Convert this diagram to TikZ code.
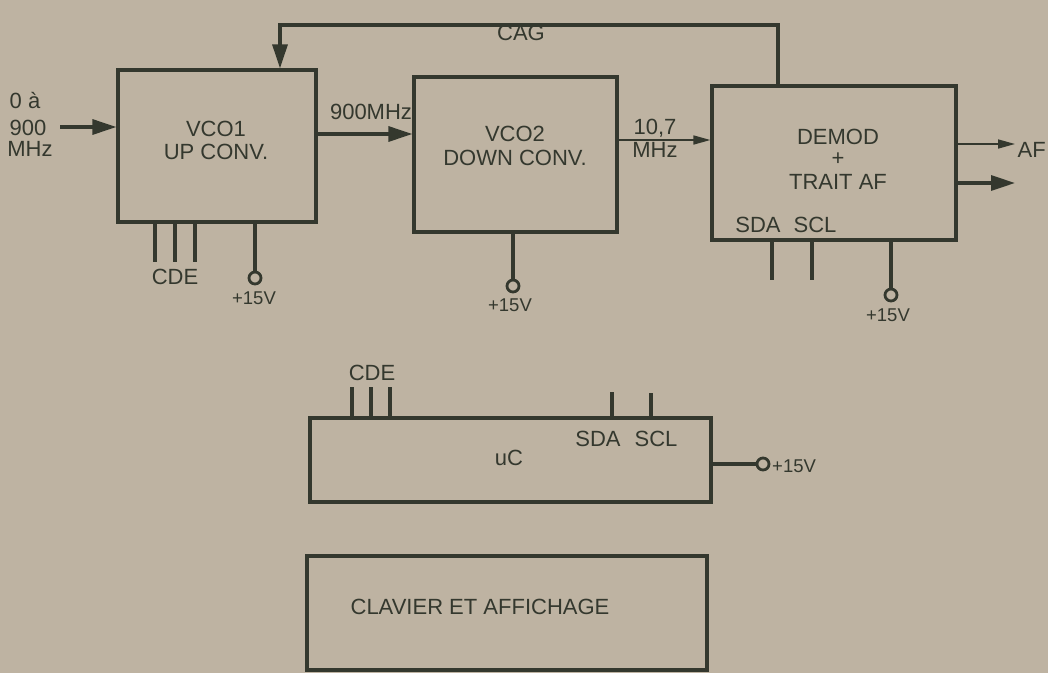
\documentclass[tikz,border=0pt]{standalone}
\usepackage{fontspec}
\setmainfont{Liberation Sans}
\usetikzlibrary{arrows.meta}
\definecolor{paper}{RGB}{190,179,162}
\definecolor{ink}{RGB}{52,56,46}
\begin{document}
\begin{tikzpicture}[x=1pt,y=-1pt,
  every node/.style={text=ink, font=\fontsize{22}{23}\selectfont, inner sep=0pt},
  box/.style={draw=ink, line width=3.2pt, rectangle},
  wire/.style={draw=ink, line width=3.2pt},
  thinwire/.style={draw=ink, line width=1.6pt},
  arr/.style={-{Triangle[length=24pt,width=15pt]}},
  sarr/.style={-{Triangle[length=17pt,width=9pt]}},
  term/.style={circle, draw=ink, line width=2.8pt, minimum size=12pt, inner sep=0pt},
  small/.style={font=\fontsize{18.5}{19}\selectfont}]
\fill[paper] (0,0) rectangle (1048,673);
\useasboundingbox (0,0) rectangle (1048,673);

% boxes
\node[box, minimum width=198pt, minimum height=152pt] (vco1) at (217,146) {};
\node[box, minimum width=203pt, minimum height=155pt] (vco2) at (515.5,154.5) {};
\node[box, minimum width=244pt, minimum height=154pt] (demod) at (834,163) {};
\node[box, minimum width=401pt, minimum height=84pt] (uc) at (510.5,460) {};
\node[box, minimum width=400pt, minimum height=114pt] (clav) at (507,613) {};

% box texts
\node (t1a) at (216,129) {VCO1};
\node (t1b) at (216,152) {UP CONV.};
\node (t2a) at (515,134) {VCO2};
\node (t2b) at (515,158) {DOWN CONV.};
\node (t3a) at (838,137) {DEMOD};
\node (t3b) at (838,159) {+};
\node (t3c) at (838,182) {TRAIT AF};
\node (sda1) at (758,225) {SDA};
\node (scl1) at (815,225) {SCL};
\node (uct) at (509,458) {uC};
\node (sda2) at (598,439) {SDA};
\node (scl2) at (656,439) {SCL};
\node (clt) at (480,607) {CLAVIER ET AFFICHAGE};

% input
\node (in1) at (25,101) {0 à};
\node (in2) at (28,128) {900};
\node (in3) at (30,149) {MHz};
\coordinate (inp) at (60,127);
\draw[wire,arr] (inp) -- (inp -| vco1.west);

% 900MHz
\coordinate (o1) at (318,134);
\draw[wire,arr] (o1) -- (o1 -| vco2.west);
\node (l900) at (371,112) {900MHz};

% 10,7 MHz
\coordinate (o2) at (617,140);
\draw[thinwire,sarr] (o2) -- (o2 -| demod.west);
\node (l107a) at (655,128) {10,7};
\node (l107b) at (655,150) {MHz};

% CAG loop
\coordinate (cagR) at (778,25);
\coordinate (cagL) at (280,25);
\draw[wire,arr] (demod.north -| cagR) -- (cagR) -- (cagL) -- (vco1.north -| cagL);
\node (cag) at (521,33) {CAG};

% DEMOD outputs
\coordinate (af1) at (1015,144);
\coordinate (af2) at (1015,183);
\draw[thinwire,sarr] (demod.east |- af1) -- (af1);
\draw[wire,arr] (demod.east |- af2) -- (af2);
\node[anchor=east] (aft) at (1046,150) {AF};

% VCO1 pins
\foreach \x [count=\i] in {155,175,195} {
  \coordinate (c1p\i) at (\x,262);
  \draw[wire] (vco1.south -| c1p\i) -- (c1p\i);
}
\node (cde1) at (175,277) {CDE};
\node[term] (v1) at (255,278) {};
\draw[wire] (vco1.south -| v1.north) -- (v1.north);
\node[small] (v1l) at (254,298) {+15V};

% VCO2 pin
\node[term] (v2) at (513,286) {};
\draw[wire] (vco2.south -| v2.north) -- (v2.north);
\node[small] (v2l) at (510,305) {+15V};

% DEMOD pins
\coordinate (dsda) at (772,280);
\coordinate (dscl) at (812,280);
\draw[wire] (demod.south -| dsda) -- (dsda);
\draw[wire] (demod.south -| dscl) -- (dscl);
\node[term] (v3) at (891,295) {};
\draw[wire] (demod.south -| v3.north) -- (v3.north);
\node[small] (v3l) at (888,315) {+15V};

% uC pins
\foreach \x [count=\i] in {352,371,390} {
  \coordinate (c2p\i) at (\x,387);
  \draw[wire] (uc.north -| c2p\i) -- (c2p\i);
}
\node (cde2) at (372,373) {CDE};
\coordinate (usda) at (612,392);
\coordinate (uscl) at (651,393);
\draw[wire] (uc.north -| usda) -- (usda);
\draw[wire] (uc.north -| uscl) -- (uscl);
\node[term] (v4) at (763,464) {};
\draw[wire] (uc.east |- v4.west) -- (v4.west);
\node[small, anchor=west] (v4l) at (772,466) {+15V};
\end{tikzpicture}
\end{document}
